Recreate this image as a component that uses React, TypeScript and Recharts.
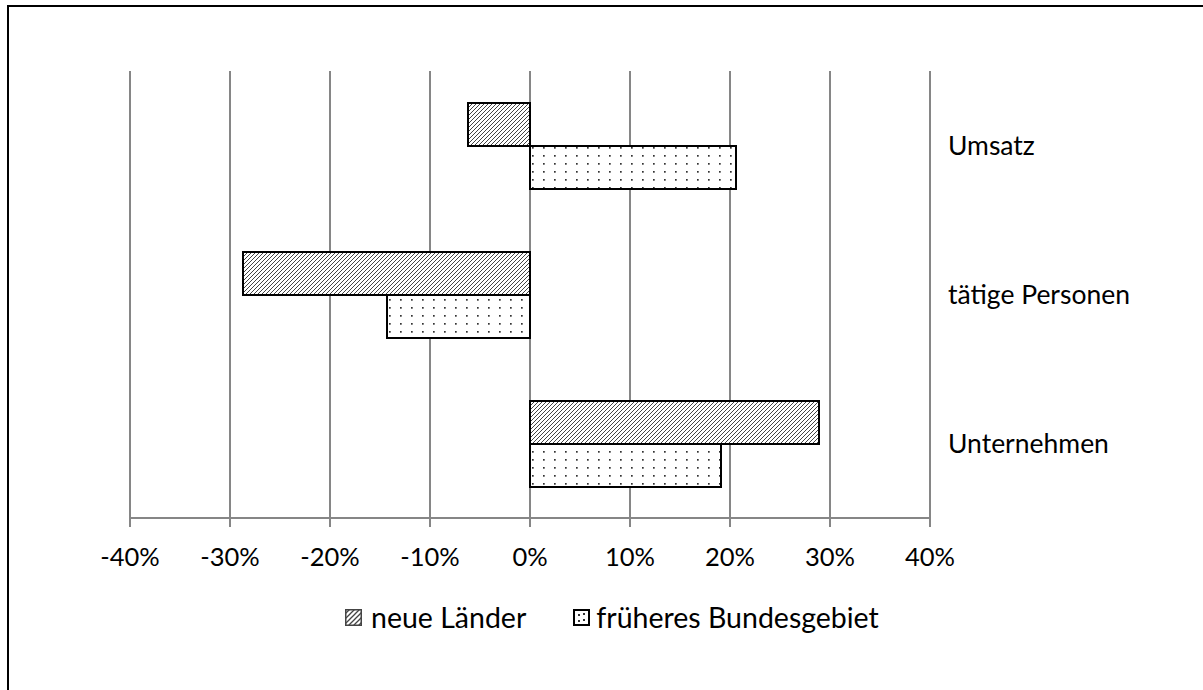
import React from 'react';
import { BarChart, Bar, XAxis, YAxis, CartesianGrid, Legend } from 'recharts';

const categories = ['Umsatz', 'tätige Personen', 'Unternehmen'];
const neueLaender = [-0.062, -0.287, 0.289];
const frueheresBundesgebiet = [0.206, -0.143, 0.191];
const xTicks = [-0.4, -0.3, -0.2, -0.1, 0, 0.1, 0.2, 0.3, 0.4];

const data = categories.map((name, i) => ({
    name,
    neue: neueLaender[i],
    frueher: frueheresBundesgebiet[i],
}));

const FONT = 'Lato, "Open Sans", sans-serif';

const pct = (v: number) => `${Math.round(v * 100)}%`;

const HatchIcon = () => (
    <svg width={17} height={17} style={{ display: 'block' }}>
        <defs>
            <pattern id="legHatch" width={5} height={5} patternUnits="userSpaceOnUse">
                <rect width={5} height={5} fill="#fff" />
                <path d="M-1,1 l2,-2 M0,5 l5,-5 M4,6 l2,-2" stroke="#444" strokeWidth={1.3} />
            </pattern>
        </defs>
        <rect x={0.75} y={0.75} width={15.5} height={15.5} fill="url(#legHatch)" stroke="#444" strokeWidth={1.5} />
    </svg>
);

const DotIcon = () => (
    <svg width={17} height={17} style={{ display: 'block' }}>
        <rect x={1} y={1} width={15} height={15} fill="#fff" stroke="#000" strokeWidth={2} />
        <rect x={5} y={5} width={2} height={2} fill="#333" />
        <rect x={10} y={4} width={2} height={2} fill="#333" />
        <rect x={5} y={11} width={2} height={2} fill="#333" />
        <rect x={10} y={10} width={2} height={2} fill="#333" />
    </svg>
);

const renderLegend = () => (
    <div style={{ display: 'flex', alignItems: 'center', height: 40, fontFamily: FONT, fontSize: 28.5, color: '#000' }}>
        <HatchIcon />
        <span style={{ marginLeft: 9, marginRight: 47 }}>neue Länder</span>
        <DotIcon />
        <span style={{ marginLeft: 6 }}>früheres Bundesgebiet</span>
    </div>
);

const App = () => {
    return (
        <div style={{ position: 'fixed', left: 0, top: 0, width: 1203, height: 690, background: '#fff', overflow: 'hidden' }}>
            <div
                style={{
                    position: 'absolute',
                    left: 7,
                    top: 5,
                    width: 1400,
                    height: 900,
                    border: '2px solid #000',
                    boxSizing: 'border-box',
                }}
            />
            <div style={{ position: 'absolute', left: 0, top: 0 }}>
                <BarChart
                    width={1203}
                    height={690}
                    data={data}
                    layout="vertical"
                    margin={{ top: 71, right: 73, bottom: 72, left: 130 }}
                    barSize={43}
                    barGap={0}
                >
                    <defs>
                        <pattern id="hatch" width={4} height={4} patternUnits="userSpaceOnUse">
                            <rect width={4} height={4} fill="#fff" />
                            <path d="M-1,1 l2,-2 M0,4 l4,-4 M3,5 l2,-2" stroke="#444" strokeWidth={1} />
                        </pattern>
                        <pattern id="dots" width={11} height={8} patternUnits="userSpaceOnUse">
                            <rect width={11} height={8} fill="#fff" />
                            <rect x={4} y={3} width={1.7} height={1.7} fill="#333" />
                        </pattern>
                    </defs>
                    <CartesianGrid horizontal={false} stroke="#868686" strokeWidth={2} />
                    <XAxis
                        type="number"
                        domain={[-0.4, 0.4]}
                        ticks={xTicks}
                        tickFormatter={pct}
                        height={60}
                        axisLine={{ stroke: '#868686', strokeWidth: 2 }}
                        tickLine={{ stroke: '#868686', strokeWidth: 2 }}
                        tickSize={9}
                        tickMargin={21}
                        tick={{ fill: '#000', fontFamily: FONT, fontSize: 25.5 }}
                        interval={0}
                    />
                    <YAxis
                        type="category"
                        dataKey="name"
                        orientation="right"
                        width={200}
                        axisLine={false}
                        tickLine={false}
                        tickSize={0}
                        tickMargin={18}
                        tick={{ fill: '#000', fontFamily: FONT, fontSize: 26.5, textAnchor: 'start' }}
                    />
                    <Bar dataKey="neue" name="neue Länder" fill="url(#hatch)" stroke="#000" strokeWidth={2} isAnimationActive={false} />
                    <Bar dataKey="frueher" name="früheres Bundesgebiet" fill="url(#dots)" stroke="#000" strokeWidth={2} isAnimationActive={false} />
                    <Legend
                        content={renderLegend}
                        wrapperStyle={{ position: 'absolute', left: 345, top: 597, width: 620, height: 40 }}
                    />
                </BarChart>
            </div>
        </div>
    );
};

export default App;
